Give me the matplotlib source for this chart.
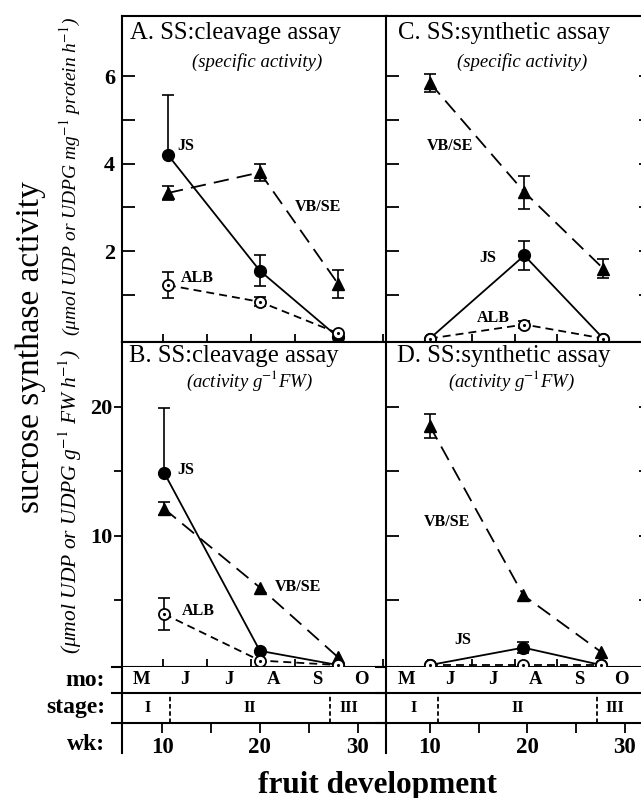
import numpy as np
import matplotlib
matplotlib.use('Agg')
import matplotlib.pyplot as plt

plt.rcParams['font.family'] = ['Liberation Serif', 'DejaVu Serif']
plt.rcParams['mathtext.fontset'] = 'stix'

# --- data (weeks of fruit development) ---
# A: SS cleavage assay, specific activity
a_wk = [10.6, 20.0, 28.0]
a_js = [4.2, 1.55, 0.03]
a_js_lo = [0, 0.35, 0]
a_js_hi = [1.37, 0.35, 0]
a_vb = [3.33, 3.8, 1.25]
a_vb_err = [0.17, 0.2, 0.32]
a_alb = [1.22, 0.84, 0.12]
a_alb_err = [0.3, 0.1, 0]

# B: SS cleavage assay, activity per g FW
b_wk = [10.2, 20.0, 28.0]
b_js = [14.9, 1.1, 0.0]
b_js_lo = [0, 0, 0]
b_js_hi = [5.0, 0, 0]
b_vb = [12.1, 6.0, 0.6]
b_vb_err = [0.5, 0, 0]
b_alb = [3.95, 0.35, 0.0]
b_alb_err = [1.25, 0, 0]

# C: SS synthetic assay, specific activity
c_wk = [10.0, 19.7, 27.8]
c_vb = [5.85, 3.35, 1.6]
c_vb_err = [0.2, 0.38, 0.22]
c_js = [0.0, 1.9, 0.0]
c_js_err = [0, 0.33, 0]
c_alb = [0.0, 0.32, 0.0]
c_alb_err = [0, 0.07, 0]

# D: SS synthetic assay, activity per g FW
d_wk = [10.0, 19.6, 27.6]
d_vb = [18.5, 5.4, 1.0]
d_vb_err = [0.9, 0, 0]
d_js = [0.0, 1.35, 0.0]
d_js_err = [0, 0.4, 0]
d_alb = [0.0, 0.0, 0.0]

months = ['M', 'J', 'J', 'A', 'S', 'O']
stages = ['I', 'II', 'III']
stage_bounds = [10.8, 27.2]


fig = plt.figure(figsize=(6.41, 7.98), dpi=100)

def px_axes(x0, y0, x1, y1):
    return fig.add_axes([x0/641, 1-y1/798, (x1-x0)/641, (y1-y0)/798])

axA = px_axes(122, 16, 387, 342)
axB = px_axes(122, 342, 387, 667)
axC = px_axes(386, 16, 651, 342)
axD = px_axes(386, 342, 651, 667)
stL = px_axes(122, 667, 387, 723)
stR = px_axes(386, 667, 651, 723)

LW = 1.3
VB_LS = (0, (8.5, 4.5))
ALB_LS = (0, (4.4, 2.8))


def draw(ax, x, y, lo, hi, kind):
    x = np.array(x); y = np.array(y)
    lo = np.array(lo, float); hi = np.array(hi, float)
    if kind == 'js':
        ax.plot(x, y, '-', color='k', lw=LW, marker='o', ms=8.5, mfc='k', mec='k', zorder=3, clip_on=False)
    elif kind == 'vb':
        ax.plot(x, y, color='k', lw=LW, ls=VB_LS, marker='^', ms=8.5, mfc='k', mec='k', zorder=3, clip_on=False)
    else:
        ax.plot(x, y, color='k', lw=LW, ls=ALB_LS, marker='o', ms=8, mfc='white', mec='k', mew=1.3,
                zorder=4, clip_on=False)
        ax.plot(x, y, '.', color='k', ms=2.5, zorder=5, clip_on=False)
    m = (lo + hi) > 0
    if m.any():
        ax.errorbar(x[m], y[m], yerr=[lo[m], hi[m]], fmt='none', ecolor='k', elinewidth=1.2,
                    capsize=4, capthick=1.2, zorder=2)


draw(axA, a_wk, a_vb, a_vb_err, a_vb_err, 'vb')
draw(axA, a_wk, a_js, a_js_lo, a_js_hi, 'js')
draw(axA, a_wk, a_alb, a_alb_err, a_alb_err, 'alb')

draw(axB, b_wk, b_vb, b_vb_err, b_vb_err, 'vb')
draw(axB, b_wk, b_js, b_js_lo, b_js_hi, 'js')
draw(axB, b_wk, b_alb, b_alb_err, b_alb_err, 'alb')

draw(axC, c_wk, c_vb, c_vb_err, c_vb_err, 'vb')
draw(axC, c_wk, c_js, c_js_err, c_js_err, 'js')
draw(axC, c_wk, c_alb, c_alb_err, c_alb_err, 'alb')

draw(axD, d_wk, d_vb, d_vb_err, d_vb_err, 'vb')
draw(axD, d_wk, d_js, d_js_err, d_js_err, 'js')
draw(axD, d_wk, d_alb, [0, 0, 0], [0, 0, 0], 'alb')

XL = (5.9, 33.0)
XR = (5.5, 32.7)
edges_L = [5.6, 10.1, 14.6, 19.1, 23.6, 28.1, 32.6]
edges_R = [5.4, 9.8, 14.3, 18.7, 23.1, 27.5, 31.9]

for ax in (axA, axC):
    ax.set_ylim(-0.08, 7.38)
    ax.set_yticks([2, 4, 6])
    ax.set_yticks([1, 3, 5], minor=True)
for ax in (axB, axD):
    ax.set_ylim(-0.15, 25.0)
    ax.set_yticks([10, 20])
    ax.set_yticks([5, 15], minor=True)

for ax in (axA, axB):
    ax.set_xlim(*XL)
    ax.set_xticks(edges_L[1:])
for ax in (axC, axD):
    ax.set_xlim(*XR)
    ax.set_xticks(edges_R[1:])

for ax in (axA, axB, axC, axD):
    for s in ax.spines.values():
        s.set_linewidth(1.5)
    ax.tick_params(axis='x', which='both', direction='in', length=6, width=1.3, labelbottom=False)
    ax.tick_params(axis='y', which='both', width=1.3)

axA.tick_params(axis='y', which='both', direction='in', length=9, pad=5, right=False)
axB.tick_params(axis='y', which='both', direction='out', length=6, pad=1)
for ax in (axC, axD):
    ax.tick_params(axis='y', which='both', direction='in', length=9, left=True, right=True,
                   labelleft=False)
for ax in (axA, axB):
    for lab in ax.get_yticklabels():
        lab.set_fontsize(16)
        lab.set_fontweight('bold')

# panel titles
title_kw = dict(fontsize=17.8, ha='left', va='center')
sub_kw = dict(fontsize=13.5, style='italic', ha='center', va='center')
axA.text(0.03, 0.948, 'A. SS:cleavage assay', transform=axA.transAxes, **title_kw)
axA.text(0.509, 0.859, '(specific activity)', transform=axA.transAxes, **sub_kw)
axB.text(0.025, 0.957, 'B. SS:cleavage assay', transform=axB.transAxes, **title_kw)
axB.text(0.483, 0.88, '(activity g$^{\\mathit{-1}}$FW)', transform=axB.transAxes, **sub_kw)
axC.text(0.045, 0.948, 'C. SS:synthetic assay', transform=axC.transAxes, **title_kw)
axC.text(0.513, 0.859, '(specific activity)', transform=axC.transAxes, **sub_kw)
axD.text(0.042, 0.957, 'D. SS:synthetic assay', transform=axD.transAxes, **title_kw)
axD.text(0.475, 0.88, '(activity g$^{\\mathit{-1}}$FW)', transform=axD.transAxes, **sub_kw)

# series labels
lab_kw = dict(fontsize=11.5, fontweight='bold', ha='center', va='center')
axA.text(12.45, 4.41, 'JS', **lab_kw)
axA.text(25.9, 3.0, 'VB/SE', **lab_kw)
axA.text(13.6, 1.39, 'ALB', **lab_kw)
axB.text(12.45, 15.1, 'JS', **lab_kw)
axB.text(23.9, 6.05, 'VB/SE', **lab_kw)
axB.text(13.7, 4.2, 'ALB', **lab_kw)
axC.text(12.05, 4.4, 'VB/SE', **lab_kw)
axC.text(15.95, 1.84, 'JS', **lab_kw)
axC.text(16.5, 0.48, 'ALB', **lab_kw)
axD.text(11.75, 11.1, 'VB/SE', **lab_kw)
axD.text(13.4, 1.95, 'JS', **lab_kw)

# month / stage / week strips
for st, xl, edges in ((stL, XL, edges_L), (stR, XR, edges_R)):
    st.set_xlim(*xl)
    st.set_ylim(0, 56)
    for s in st.spines.values():
        s.set_linewidth(1.5)
    st.spines['top'].set_visible(False)
    st.axhline(30, color='k', lw=1.5)
    mids = [(edges[i] + edges[i+1]) / 2 for i in range(len(months))]
    for xm, m in zip(mids, months):
        st.text(xm, 43, m, fontsize=13.5, fontweight='bold', ha='center', va='center')
    for xb in stage_bounds:
        st.plot([xb, xb], [0, 30], color='k', lw=1.3, ls=(0, (2.5, 1.5)))
    spos = [(xl[0] + stage_bounds[0]) / 2 + 0.2, (stage_bounds[0] + stage_bounds[1]) / 2,
            (stage_bounds[1] + xl[1]) / 2 - 1.0]
    for xs, s in zip(spos, stages):
        st.text(xs, 15, s, fontsize=11.5, fontweight='bold', ha='center', va='center')
    st.set_yticks([])
    st.set_xticks([10, 20, 30])
    st.set_xticks([15, 25], minor=True)
    st.tick_params(axis='x', which='both', direction='out', length=7, width=1.3, pad=3)
    for lab in st.get_xticklabels():
        lab.set_fontsize(16.5)
        lab.set_fontweight('bold')
    st.plot([0, 0], [0, -30/56], transform=st.transAxes, color='k', lw=1.5, clip_on=False)
    for yy in (0, 30/56, 1):
        st.plot([-10/265, 0], [yy, yy], transform=st.transAxes, color='k', lw=1.5, clip_on=False)

# axis labels
fig.text(31/641, 1-347/798, 'sucrose synthase activity', rotation=90, fontsize=24,
         ha='center', va='center')
fig.text(70/641, 1-177/798, '(\u03bcmol UDP or UDPG mg$^{\\mathit{-1}}$ protein h$^{\\mathit{-1}}$)',
         rotation=90, fontsize=14, style='italic', ha='center', va='center')
fig.text(70/641, 1-502/798, '(\u03bcmol UDP or UDPG g$^{\\mathit{-1}}$ FW h$^{\\mathit{-1}}$)',
         rotation=90, fontsize=15.5, style='italic', ha='center', va='center')
for yy, t in ((680, 'mo:'), (708, 'stage:'), (745, 'wk:')):
    fig.text(105/641, 1-yy/798, t, fontsize=17, fontweight='bold', ha='right', va='center')
fig.text(378/641, 1-785/798, 'fruit development', fontsize=22.5, fontweight='bold',
         ha='center', va='center')

fig.savefig('out.png', dpi=100)
